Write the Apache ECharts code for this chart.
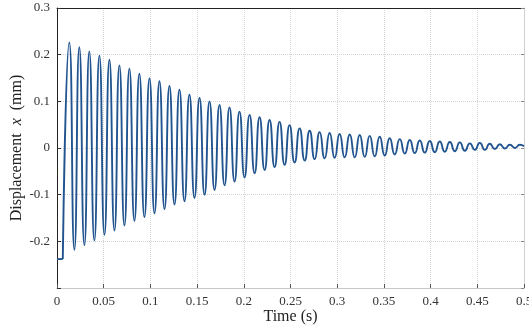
<!DOCTYPE html>
<html>
<head>
<meta charset="utf-8">
<script src="https://cdn.jsdelivr.net/npm/echarts@6/dist/echarts.min.js"></script>
<style>html,body{margin:0;padding:0;background:#fff}#c{width:529px;height:328px}</style>
</head>
<body>
<div id="c"></div>
<script>
// Initial rest segment
var startTimes = [0, 0.0062];
var startValues = [-0.238, -0.238];
// Peaks (local maxima)
var peakTimes = [0.0132,0.0239,0.0346,0.0454,0.0561,0.0668,0.0775,0.0882,0.0990,0.1097,
  0.1204,0.1311,0.1418,0.1526,0.1633,0.1740,0.1847,0.1954,0.2062,0.2169,
  0.2276,0.2383,0.2490,0.2598,0.2705,0.2812,0.2919,0.3026,0.3134,0.3241,
  0.3348,0.3455,0.3562,0.3670,0.3777,0.3884,0.3991,0.4098,0.4206,0.4313,
  0.4420,0.4527,0.4634,0.4742,0.4849,0.4956];
var peakValues = [0.226,0.216,0.207,0.198,0.189,0.177,0.170,0.159,0.149,0.143,
  0.133,0.125,0.114,0.107,0.100,0.092,0.087,0.078,0.071,0.066,
  0.060,0.056,0.049,0.042,0.037,0.034,0.032,0.030,0.029,0.028,
  0.026,0.024,0.021,0.019,0.017,0.016,0.015,0.014,0.013,0.012,
  0.010,0.011,0.009,0.008,0.007,0.007];
// Troughs (local minima)
var troughTimes = [0.0186,0.0293,0.0400,0.0508,0.0615,0.0722,0.0829,0.0936,0.1044,0.1151,
  0.1258,0.1365,0.1472,0.1580,0.1687,0.1794,0.1901,0.2008,0.2116,0.2223,
  0.2330,0.2437,0.2544,0.2652,0.2759,0.2866,0.2973,0.3080,0.3188,0.3295,
  0.3402,0.3509,0.3616,0.3724,0.3831,0.3938,0.4045,0.4152,0.4260,0.4367,
  0.4474,0.4581,0.4688,0.4796,0.4903];
var troughValues = [-0.218,-0.208,-0.198,-0.186,-0.177,-0.166,-0.156,-0.148,-0.140,-0.131,
  -0.121,-0.114,-0.107,-0.100,-0.090,-0.080,-0.072,-0.063,-0.054,-0.047,
  -0.041,-0.036,-0.031,-0.027,-0.024,-0.022,-0.021,-0.020,-0.020,-0.019,
  -0.018,-0.016,-0.014,-0.012,-0.011,-0.010,-0.009,-0.008,-0.007,-0.006,
  -0.004,-0.004,-0.002,-0.001,0.000];
var endTimes = [0.5];
var endValues = [0.004];

var xTicks = [0,0.05,0.1,0.15,0.2,0.25,0.3,0.35,0.4,0.45,0.5];
var yTicks = [-0.3,-0.2,-0.1,0,0.1,0.2,0.3];

var restData = startTimes.map(function(t,i){return [t,startValues[i]];});
var osc = [[startTimes[1], startValues[1]]];
var ext = [];
peakTimes.forEach(function(t,i){ext.push([t,peakValues[i]]);});
troughTimes.forEach(function(t,i){ext.push([t,troughValues[i]]);});
endTimes.forEach(function(t,i){ext.push([t,endValues[i]]);});
ext.sort(function(a,b){return a[0]-b[0];});
osc = osc.concat(ext);

var font = 'Liberation Serif';
function fmt(v){ var r = Math.round(v*100)/100; return String(r); }

var chart = echarts.init(document.getElementById('c'), null, {renderer:'canvas'});
chart.setOption({
  animation:false,
  backgroundColor:'#fff',
  grid:{left:57, right:5, top:8, bottom:40, containLabel:false, outerBoundsMode:'none'},
  xAxis:[{
    type:'value', min:xTicks[0], max:xTicks[xTicks.length-1], interval:0.05,
    name:'Time (s)', nameLocation:'middle', nameGap:21, nameMoveOverlap:false,
    nameTextStyle:{fontFamily:font, fontSize:16, color:'#222'},
    axisLine:{onZero:false, lineStyle:{color:'#c8c8c8', width:1}},
    axisTick:{inside:true, length:4, lineStyle:{color:'#555'}},
    axisLabel:{fontFamily:font, fontSize:13, color:'#333', margin:7, formatter:fmt},
    splitLine:{show:true, lineStyle:{color:'#d4d4d4', type:'dotted', width:1}}
  },{
    type:'value', position:'top', min:0, max:0.5, interval:0.05,
    axisLine:{show:true, onZero:false, lineStyle:{color:'#222', width:1}},
    axisTick:{show:false}, axisLabel:{show:false}, splitLine:{show:false}
  }],
  yAxis:[{
    type:'value', min:yTicks[0], max:yTicks[yTicks.length-1], interval:0.1,
    name:'Displacement  {i|x}  (mm)', nameLocation:'middle', nameGap:32, nameRotate:90,
    nameMoveOverlap:false,
    nameTextStyle:{fontFamily:font, fontSize:16, color:'#222',
      rich:{i:{fontFamily:font, fontStyle:'italic', fontSize:16, color:'#222'}}},
    axisLine:{show:true, onZero:false, lineStyle:{color:'#222', width:1}},
    axisTick:{inside:true, length:4, lineStyle:{color:'#333'}},
    axisLabel:{fontFamily:font, fontSize:13, color:'#333', margin:7,
      formatter:function(v){ return Math.abs(v+0.3)<1e-9 ? '' : fmt(v); }},
    splitLine:{show:true, lineStyle:{color:'#d4d4d4', type:'dotted', width:1}}
  },{
    type:'value', position:'right', min:-0.3, max:0.3, interval:0.1,
    axisLine:{show:true, onZero:false, lineStyle:{color:'#d0d0d0', width:1}},
    axisTick:{show:true, inside:true, length:3, lineStyle:{color:'#888'}},
    axisLabel:{show:false}, splitLine:{show:false}
  }],
  series:[{
    type:'line', data:restData, showSymbol:false, smooth:false,
    lineStyle:{color:'#22558f', width:1.9}
  },{
    type:'line', data:osc, showSymbol:false, smooth:0.6,
    lineStyle:{color:'#22558f', width:1.9}
  }]
});
</script>
</body>
</html>
